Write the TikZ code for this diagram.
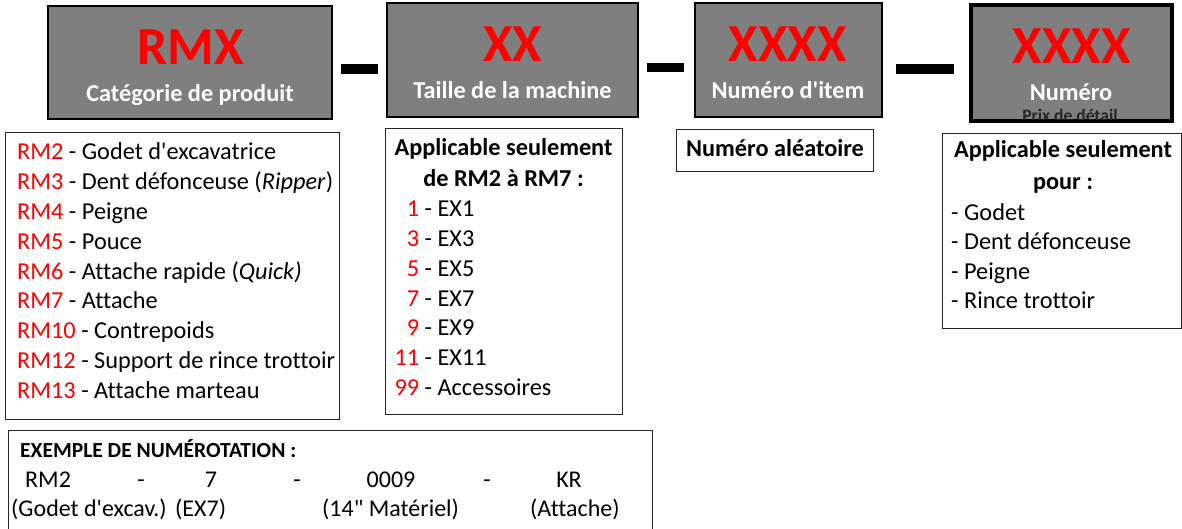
\documentclass[tikz,border=0pt]{standalone}
\usepackage{fontspec}
\setmainfont{Carlito}[Ligatures={NoCommon}]
\usetikzlibrary{positioning}
\definecolor{codegray}{HTML}{7F7F7F}
\definecolor{codered}{HTML}{FF0000}
\newcommand{\codenum}[1]{\textcolor{codered}{#1}}

\tikzset{
  codebox/.style={draw=black, fill=codegray, line width=2.8pt, inner sep=0pt},
  codetxt/.style={text=codered, font=\bfseries\fontsize{53.5}{53.5}\selectfont, inner sep=0pt, anchor=base},
  codelbl/.style={text=white, font=\bfseries\fontsize{24.3}{24.3}\selectfont, inner sep=0pt, anchor=base},
  dashbar/.style={fill=black, inner sep=0pt, minimum height=10pt},
  listbox/.style={draw=black!85, line width=0.9pt, inner sep=0pt},
  listtxt/.style={font=\fontsize{24.3}{24.3}\selectfont, inner sep=0pt, anchor=base west},
  listhead/.style={font=\bfseries\fontsize{24.3}{24.3}\selectfont, inner sep=0pt, anchor=base},
  extxt/.style={font=\fontsize{24}{24}\selectfont, inner sep=0pt, anchor=base west},
}

\begin{document}
\begin{tikzpicture}[x=1pt, y=-1pt]
    \useasboundingbox (0,0) rectangle (1182,529);

    % the four parts of the code
    \node[codebox, minimum width=284pt, minimum height=113pt] (rmx) at (190,62.5) {};
    \node[codebox, minimum width=251pt, minimum height=114pt] (taille) at (512.5,60) {};
    \node[codebox, minimum width=187pt, minimum height=114pt] (item) at (788.5,60) {};
    \node[codebox, minimum width=199pt, minimum height=114pt] (prix) at (1071.5,63) {};

    \node[codetxt] (rmxcode) at (190.5,65) {RMX};
    \node[codelbl] (rmxlbl) at (190,102) {Catégorie de produit};
    \node[codetxt] (taillecode) at (512.5,62) {XX};
    \node[codelbl] (taillelbl) at (512.5,99) {Taille de la machine};
    \node[codetxt] (itemcode) at (787.5,62) {XXXX};
    \node[codelbl] (itemlbl) at (788,98.5) {Numéro d\textquotesingle item};
    \node[codetxt] (prixcode) at (1071.5,63.5) {XXXX};
    \node[codelbl] (prixlbl) at (1071,101) {Numéro};
    \node[anchor=base, inner sep=0pt, text=black!85, font=\bfseries\fontsize{17.5}{17.5}\selectfont] (prixsub) at (1070,122) {Prix de détail};
    % border again, it cuts the small text
    \draw[line width=2.8pt] (prix.south west) rectangle (prix.north east);

    % dashes between the parts
    \node[dashbar, minimum width=37pt] (dash1) at (359.5,69) {};
    \node[dashbar, minimum width=37pt, minimum height=9pt] (dash2) at (665.5,68) {};
    \node[dashbar, minimum width=58pt] (dash3) at (925,69.5) {};

    % categories
    \node[listbox, minimum width=334pt, minimum height=287pt] (catbox) at (172,275.5) {};
    \node[listtxt] (rm2) at (17,160) {\codenum{RM2} - Godet d\textquotesingle excavatrice};
    \node[listtxt] (rm3) at (17,189.75) {\codenum{RM3} - Dent défonceuse (\textit{Ripper})};
    \node[listtxt] (rm4) at (17,219.5) {\codenum{RM4} - Peigne};
    \node[listtxt] (rm5) at (17,249.25) {\codenum{RM5} - Pouce};
    \node[listtxt] (rm6) at (17,279) {\codenum{RM6} - Attache rapide (\textit{Quick)}};
    \node[listtxt] (rm7) at (17,308.75) {\codenum{RM7} - Attache};
    \node[listtxt] (rm10) at (17,338.5) {\codenum{RM10} - Contrepoids};
    \node[listtxt] (rm12) at (17,368.25) {\codenum{RM12} - Support de rince trottoir};
    \node[listtxt] (rm13) at (17,398) {\codenum{RM13} - Attache marteau};

    % machine sizes
    \node[listbox, minimum width=237pt, minimum height=286pt] (sizebox) at (503.5,271) {};
    \node[listhead] (sizehead1) at (503.5,156) {Applicable seulement};
    \node[listhead] (sizehead2) at (503.5,187) {de RM2 à RM7 :};
    \node[listtxt] (ex1) at (419,217) {\llap{\codenum{1}} - EX1};
    \node[listtxt] (ex3) at (419,246.7) {\llap{\codenum{3}} - EX3};
    \node[listtxt] (ex5) at (419,276.4) {\llap{\codenum{5}} - EX5};
    \node[listtxt] (ex7) at (419,306.1) {\llap{\codenum{7}} - EX7};
    \node[listtxt] (ex9) at (419,335.8) {\llap{\codenum{9}} - EX9};
    \node[listtxt] (ex11) at (419,365.5) {\llap{\codenum{11}} - EX11};
    \node[listtxt] (ex99) at (419,395.2) {\llap{\codenum{99}} - Accessoires};

    % item number
    \node[listbox, minimum width=197pt, minimum height=42pt] (randbox) at (774.5,150) {};
    \node[listhead] (randtxt) at (775,157) {Numéro aléatoire};

    % retail price
    \node[listbox, minimum width=239pt, minimum height=195pt] (pricebox) at (1061.5,230.5) {};
    \node[listhead] (pricehead1) at (1063,158) {Applicable seulement};
    \node[listhead] (pricehead2) at (1063,190) {pour :};
    \node[listtxt] (godet) at (951,221) {- Godet};
    \node[listtxt] (dent) at (951,250) {- Dent défonceuse};
    \node[listtxt] (peigne) at (951,279) {- Peigne};
    \node[listtxt] (rince) at (951,308) {- Rince trottoir};

    % example
    \node[listbox, minimum width=644pt, minimum height=120pt] (exbox) at (330,490) {};
    \node[extxt, font=\bfseries\fontsize{21.5}{21.5}\selectfont] (exhead) at (20,457) {EXEMPLE DE NUMÉROTATION :};
    \node[extxt] (exrm) at (25,487) {RM2};
    \node[extxt, anchor=base] (exsep1) at (141,487) {-};
    \node[extxt, anchor=base] (exsize) at (211,487) {7};
    \node[extxt, anchor=base] (exsep2) at (297,487) {-};
    \node[extxt, anchor=base] (exitem) at (391,487) {0009};
    \node[extxt, anchor=base] (exsep3) at (487,487) {-};
    \node[extxt, anchor=base] (exkr) at (569,487) {KR};
    \node[extxt] (exrmlbl) at (11,516) {(Godet d\textquotesingle excav.)};
    \node[extxt] (exsizelbl) at (175,516) {(EX7)};
    \node[extxt] (exitemlbl) at (322,516) {(14\textquotedbl{} Matériel)};
    \node[extxt] (exkrlbl) at (530,516) {(Attache)};
\end{tikzpicture}
\end{document}
